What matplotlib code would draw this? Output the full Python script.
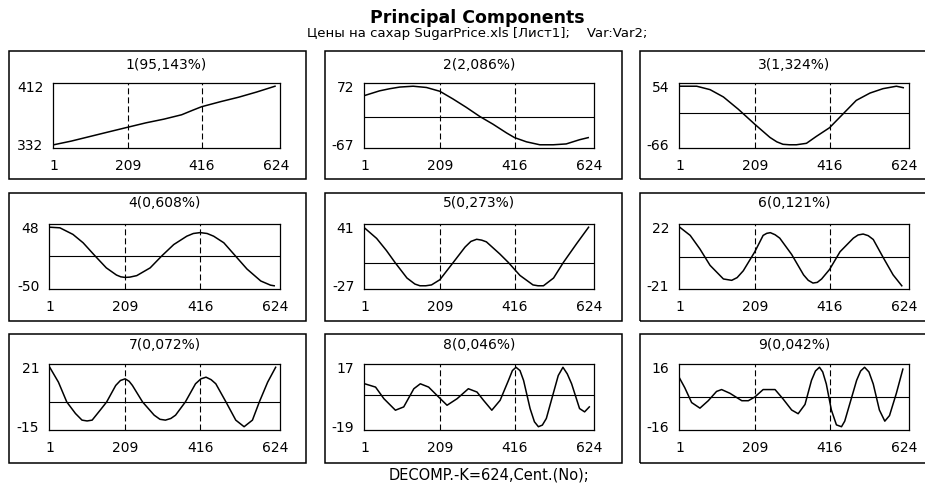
import matplotlib
matplotlib.use("Agg")
import matplotlib.pyplot as plt
from matplotlib.patches import Rectangle

plt.rcParams['font.family'] = ['DejaVu Sans']
plt.rcParams['lines.scale_dashes'] = False

# ---------------- data ----------------
main_title = "Principal Components"
sub_title = "Цены на сахар SugarPrice.xls [Лист1];    Var:Var2;"
foot_note = "DECOMP.-K=624,Cent.(No);"

titles = ["1(95,143%)", "2(2,086%)", "3(1,324%)",
          "4(0,608%)", "5(0,273%)", "6(0,121%)",
          "7(0,072%)", "8(0,046%)", "9(0,042%)"]
x_ticks = [1, 209, 416, 624]
pc_max = [412, 72, 54, 48, 41, 22, 21, 17, 16]
pc_min = [332, -67, -66, -50, -27, -21, -15, -19, -16]

pc1_x = [1, 50, 100, 150, 209, 260, 310, 360, 390, 416, 470, 520, 570, 622]
pc1_y = [332, 337, 343, 349, 356, 362, 367, 373, 379, 384, 391, 397, 404, 412]

pc2_x = [1, 42, 70, 98, 135, 172, 209, 245, 282, 320, 356, 394, 416, 449, 486, 523, 559, 596, 620]
pc2_y = [50, 61, 66, 70, 72, 69, 60, 42, 22, 0, -18, -39, -50, -60, -67, -67, -65, -55, -50]

pc3_x = [1, 48, 85, 122, 163, 209, 251, 270, 287, 305, 324, 352, 379, 416, 453, 490, 528, 564, 601, 620]
pc3_y = [54, 54, 47, 32, 7, -24, -51, -60, -65, -66, -66, -63, -49, -31, -3, 25, 40, 49, 54, 51]

pc4_x = [1, 29, 65, 93, 126, 157, 185, 197, 209, 222, 241, 278, 310, 343, 379, 397, 416, 435, 453, 481, 513, 545, 583, 610, 620]
pc4_y = [48, 47, 36, 22, 0, -20, -32, -35, -36, -35.5, -33, -20, 0, 19, 33, 37.5, 39, 37.5, 33, 22, 0, -22, -42, -49, -50]

pc5_x = [1, 34, 61, 85, 118, 140, 154, 170, 186, 209, 246, 279, 295, 311, 325, 338, 375, 399, 431, 467, 481, 496, 524, 551, 588, 621]
pc5_y = [40, 28, 14, 0, -18, -25, -27, -27, -26, -20, 0, 18, 24.5, 27, 26, 24, 10, 0, -15, -26, -27, -27, -18, 0, 22, 41]

pc6_x = [1, 30, 57, 85, 122, 145, 160, 177, 209, 232, 242, 252, 265, 278, 311, 344, 357, 370, 382, 394, 416, 445, 482, 495, 509, 523, 537, 564, 592, 616]
pc6_y = [22, 16, 6, -6, -16, -17, -15, -10, 4, 16, 17.5, 18, 16.5, 14, 2, -13, -17, -19, -18.5, -16, -9, 4, 14, 16.3, 17, 15.8, 13, 0, -13, -21]

pc7_x = [1, 25, 48, 72, 90, 104, 118, 140, 158, 183, 196, 209, 220, 229, 257, 289, 305, 320, 335, 348, 375, 403, 418, 432, 446, 459, 487, 514, 537, 560, 579, 602, 624]
pc7_y = [21, 12, 0, -7, -11, -11.5, -11, -5, 0, 10, 13, 14, 12.5, 10, 0, -8, -10.5, -11, -10, -8, 0, 11, 14, 15, 13.5, 11, 0, -11, -15, -11, 0, 12, 21]

pc8_x = [1, 31, 54, 86, 109, 137, 155, 178, 201, 229, 257, 288, 312, 330, 353, 376, 399, 410, 420, 431, 441, 459, 471, 482, 493, 504, 523, 537, 550, 562, 574, 596, 610, 623]
pc8_y = [7, 5, -2, -9, -7, 4, 7, 5, 0, -6, -2, 4, 2, -3, -9, -3, 9, 15, 17, 15, 9, -8, -16, -19, -18, -14, 1, 12, 17, 13, 7, -8, -10, -7]

pc9_x = [1, 15, 34, 57, 80, 103, 117, 140, 173, 191, 209, 232, 265, 287, 311, 329, 348, 366, 377, 388, 397, 407, 421, 435, 449, 458, 467, 491, 502, 513, 525, 537, 554, 569, 582, 601, 619]
pc9_y = [10, 5, -3, -6, -2, 3, 4, 2, -2, -2, 0, 4, 4, -1, -7, -9, -4, 9, 14, 16, 13.5, 7, -7, -15, -16, -13, -7, 9, 14, 16, 13.5, 7, -7, -13, -10, 2, 15]

series_x = [pc1_x, pc2_x, pc3_x, pc4_x, pc5_x, pc6_x, pc7_x, pc8_x, pc9_x]
series_y = [pc1_y, pc2_y, pc3_y, pc4_y, pc5_y, pc6_y, pc7_y, pc8_y, pc9_y]

# ---------------- layout (pixels) ----------------
W, H = 925, 491
fig = plt.figure(figsize=(W / 100, H / 100), dpi=100)

box_cols = [(9, 306), (325, 622), (640, 928)]
box_rows = [(51, 179), (193, 321), (334, 463)]
ax_cols = [(51, 280), (364, 594), (679, 909)]
col1_left = [53, 49, 49]
ax_rows = [(83, 148), (224, 289), (364, 430)]
title_rows = [65, 203, 345]

for k in range(9):
    r, c = divmod(k, 3)
    bx0, bx1 = box_cols[c]
    by0, by1 = box_rows[r]
    fig.add_artist(Rectangle((bx0 / W, 1 - by1 / H), (bx1 - bx0) / W, (by1 - by0) / H,
                             transform=fig.transFigure, fill=False, lw=1.1, ec='black'))
    a0, a1 = ax_cols[c]
    if c == 0:
        a0 = col1_left[r]
    t0, t1 = ax_rows[r]
    ax = fig.add_axes([a0 / W, 1 - t1 / H, (a1 - a0) / W, (t1 - t0) / H])

    lo, hi = pc_min[k], pc_max[k]
    pad = 0.055 * (hi - lo)
    ax.set_ylim(lo - pad, hi + pad)
    ax.set_xlim(-1, 636)

    for xv in x_ticks[1:3]:
        ax.axvline(xv, color='black', lw=0.8, linestyle=(0, (4.3, 2.2)))
    if lo < 0 < hi:
        ax.axhline(0, color='black', lw=0.8)
    ax.plot(series_x[k], series_y[k], color='black', lw=1.1)

    ax.set_xticks(x_ticks)
    ax.set_xticklabels([str(v) for v in x_ticks])
    ax.set_yticks([lo, hi])
    ax.set_yticklabels([str(lo), str(hi)])
    ax.tick_params(axis='both', length=0, labelsize=10, colors='black')
    ax.tick_params(axis='x', pad=8)
    ax.tick_params(axis='y', pad=7)
    for s in ax.spines.values():
        s.set_linewidth(0.9)

    fig.text((a0 + a1) / 2 / W, 1 - title_rows[r] / H, titles[k],
             ha='center', va='center', fontsize=10)

fig.text(477 / W, 1 - 18 / H, main_title, ha='center', va='center',
         fontsize=12.5, fontweight='bold')
fig.text(477 / W, 1 - 34 / H, sub_title, ha='center', va='center', fontsize=9.5)
fig.text(489 / W, 1 - 475 / H, foot_note, ha='center', va='center', fontsize=10.5)

fig.savefig("out.png", dpi=100)
